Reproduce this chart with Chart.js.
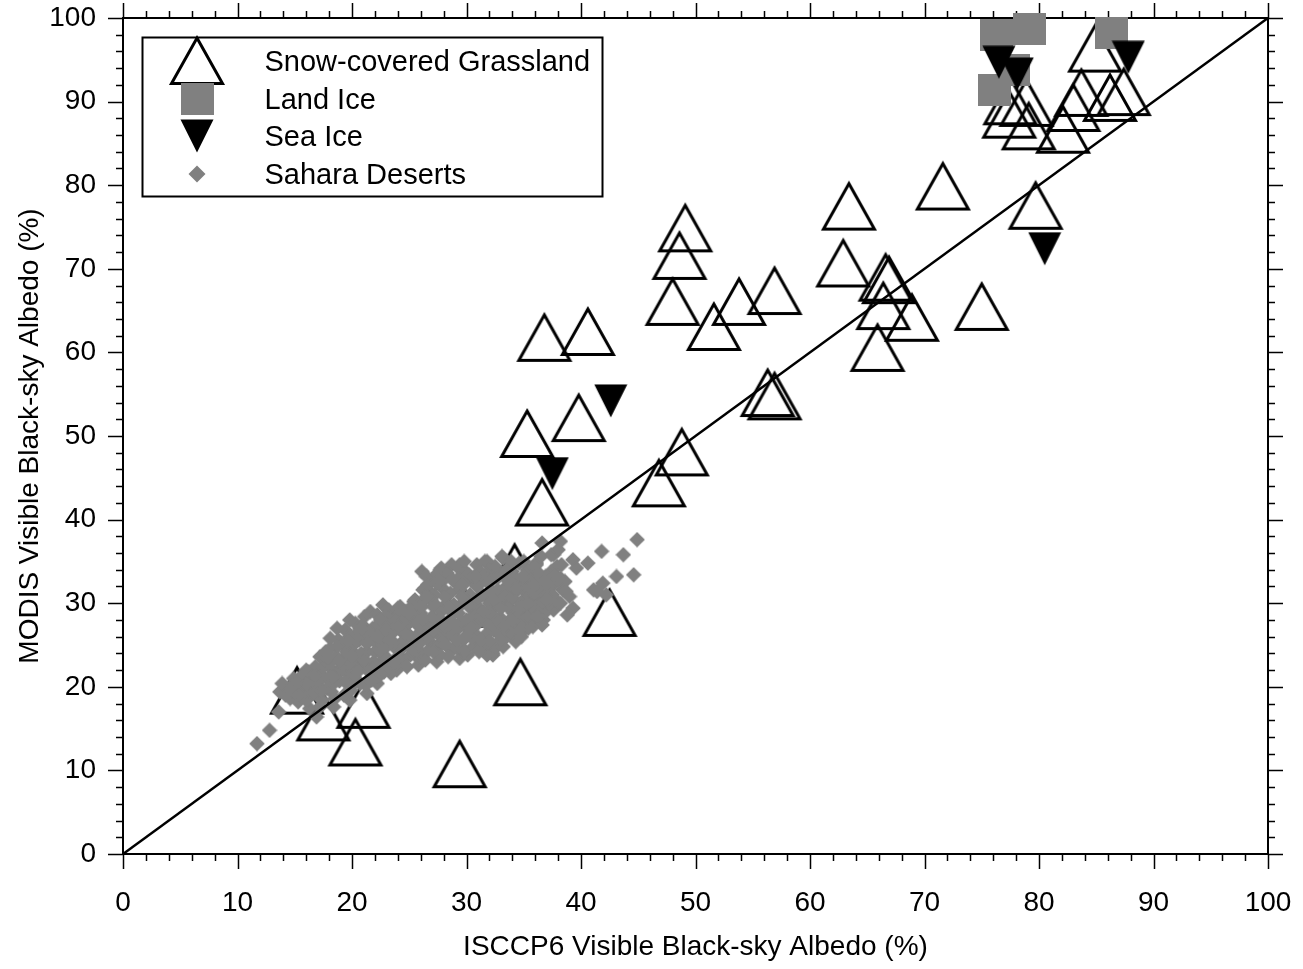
<!DOCTYPE html>
<html>
<head>
<meta charset="utf-8">
<script src="https://cdn.jsdelivr.net/npm/chart.js@4.4.1/dist/chart.umd.min.js"></script>
<style>
  html, body { margin: 0; padding: 0; background: #ffffff; }
  #c { display: block; }
</style>
</head>
<body>
<canvas id="c" width="1303" height="969"></canvas>
<script>
// ---- data ---------------------------------------------------------------
const seriesLabels = ['Snow-covered Grassland', 'Land Ice', 'Sea Ice', 'Sahara Deserts'];
const xTitle = 'ISCCP6 Visible Black-sky Albedo (%)';
const yTitle = 'MODIS Visible Black-sky Albedo (%)';
const axisMin = 0;
const axisMax = 100;
const majorStep = 10;
const minorStep = 2;

// [ISCCP6, MODIS] pairs, percent
const grassland = [
  [49.1, 74.9], [48.6, 71.6], [48.0, 66.1], [51.6, 63.1], [53.8, 66.1], [56.9, 67.4],
  [63.4, 77.5], [62.9, 70.7], [66.6, 69.0], [66.9, 68.7], [66.4, 65.6], [68.9, 64.2],
  [65.9, 60.6], [71.6, 79.9], [75.0, 65.5], [79.7, 77.6],
  [36.8, 61.8], [40.6, 62.5], [39.8, 52.2], [35.3, 50.3], [36.6, 42.1],
  [48.8, 48.1], [46.8, 44.4], [56.3, 55.2], [56.9, 54.8],
  [29.4, 10.8], [20.3, 13.4], [17.5, 16.4], [21.0, 17.9], [15.2, 19.6], [34.7, 20.6],
  [34.2, 34.3], [42.5, 28.9], [29.4, 30.0],
  [77.4, 88.5], [77.5, 90.1], [78.9, 89.9], [79.1, 87.1], [82.1, 86.7], [83.0, 89.3],
  [83.7, 91.1], [86.2, 90.5], [87.4, 91.2], [84.9, 96.4]
];

const landIce = [
  [76.3, 98.0], [79.2, 98.7], [77.8, 93.8], [76.1, 91.4], [86.3, 98.2]
];

const seaIce = [
  [42.6, 54.2], [37.5, 45.5], [80.5, 72.4], [76.5, 94.7], [78.1, 93.3], [87.8, 95.3]
];

const saharaDeserts = [
  // lower-left tail and lower edge
  [11.7, 13.2], [12.8, 14.8], [13.6, 17.0], [13.7, 19.4], [13.9, 20.4], [14.6, 18.6],
  [14.9, 21.0], [16.0, 22.0], [17.2, 23.6], [18.1, 25.8], [18.7, 27.0], [19.8, 28.0],
  [21.6, 29.0], [22.7, 29.8], [16.9, 16.4], [18.4, 17.6], [19.8, 18.4], [21.3, 19.2],
  [22.2, 20.4], [23.9, 22.0], [25.8, 22.6], [27.4, 23.0], [29.4, 23.4],
  [32.3, 23.8], [31.6, 24.8], [32.3, 24.0],
  // upper edge
  [24.2, 29.6], [25.4, 30.2], [26.1, 33.8], [27.0, 32.8], [27.8, 34.2], [29.4, 34.6],
  [31.8, 35.0], [33.2, 35.4], [26.2, 31.6], [26.4, 31.8], [27.7, 34.0], [29.3, 34.2],
  [31.6, 35.0],
  // brighter scenes to the right
  [44.9, 37.6], [44.6, 33.4], [43.7, 35.8], [43.1, 33.2], [41.8, 36.2], [40.6, 34.8],
  [39.3, 35.2], [39.6, 34.2], [38.2, 33.0], [37.6, 35.8], [38.2, 37.4], [36.6, 37.2],
  [36.1, 34.8], [39.3, 29.4], [41.1, 31.6], [42.2, 31.0], [41.9, 32.4], [37.3, 30.8],
  [37.6, 29.2], [36.7, 28.0], [35.8, 28.0], [35.0, 26.8], [33.8, 26.4], [33.5, 29.8],
  [34.1, 28.8], [33.5, 32.0], [35.8, 30.8], [36.4, 29.6], [35.0, 30.4], [33.2, 33.6],
  [33.1, 35.6], [36.4, 32.2], [32.9, 27.6], [33.2, 25.6], [34.7, 28.4], [37.4, 35.8],
  [36.1, 34.6], [41.4, 31.4],
  // core of the cloud
  [14.2, 19.0], [14.8, 20.2], [15.3, 18.2], [15.6, 21.3], [15.9, 19.6], [16.3, 17.4],
  [16.5, 20.8], [16.8, 22.4], [17.0, 18.9], [17.3, 21.5], [17.6, 23.2], [17.8, 19.8],
  [18.1, 24.6], [18.3, 22.0], [18.5, 18.6], [18.8, 25.6], [18.9, 20.7], [19.2, 23.4],
  [19.4, 26.8], [19.6, 21.6], [19.9, 19.6], [20.1, 25.0], [20.3, 27.6], [20.5, 23.0],
  [20.7, 20.4], [20.9, 26.2], [21.1, 28.4], [21.3, 24.2], [21.5, 21.8], [21.8, 27.0],
  [22.0, 25.4], [22.2, 28.6], [22.4, 22.8], [22.6, 23.9], [22.8, 27.9], [23.0, 26.0],
  [23.2, 29.2], [23.4, 21.6], [23.6, 28.6], [23.8, 24.6], [24.0, 29.4], [24.2, 26.8],
  [24.5, 23.2], [24.7, 29.0], [25.0, 27.8], [25.2, 29.6], [25.4, 25.0], [25.6, 30.0],
  [25.8, 23.4], [26.0, 28.8], [26.3, 26.4], [26.5, 33.2], [26.7, 24.4], [26.9, 31.2],
  [27.1, 29.6], [27.3, 27.2], [27.5, 33.6], [27.7, 23.8], [27.9, 31.8], [28.1, 25.8],
  [28.3, 30.0], [28.5, 28.0], [28.7, 34.6], [28.9, 24.6], [29.1, 32.4], [29.3, 27.0],
  [29.5, 29.8], [29.7, 25.6], [29.9, 33.8], [30.1, 23.8], [30.3, 31.0], [30.5, 28.4],
  [30.7, 26.4], [30.9, 34.6], [31.1, 29.4], [31.3, 32.6], [31.5, 25.2], [31.7, 30.8],
  [31.9, 27.4], [32.1, 34.0], [32.3, 28.6], [32.5, 24.6], [32.7, 31.6], [32.9, 26.2],
  [33.1, 30.2], [33.3, 33.2], [33.5, 27.0], [33.7, 31.2], [33.9, 35.0], [34.1, 29.0],
  [34.3, 25.4], [34.5, 32.4], [34.7, 30.0], [34.9, 27.6], [35.1, 31.6], [35.3, 34.0],
  [35.5, 29.2], [35.8, 27.2], [36.0, 32.8], [36.2, 30.6], [36.5, 35.6], [36.8, 28.8],
  [37.0, 31.8], [37.4, 33.8], [37.8, 30.4], [38.0, 36.4], [38.4, 31.6], [38.8, 28.6],
  [15.0, 19.4], [15.5, 20.0], [16.0, 18.4], [16.2, 21.8], [16.9, 20.0], [17.2, 17.6],
  [17.5, 22.4], [17.9, 21.0], [18.2, 19.4], [18.6, 23.6], [18.8, 21.6], [19.1, 25.2],
  [19.3, 19.0], [19.7, 22.6], [19.9, 24.4], [20.2, 21.2], [20.4, 26.4], [20.8, 24.0],
  [21.0, 22.6], [21.2, 20.2], [21.6, 25.8], [21.9, 23.0], [22.1, 27.2], [22.3, 21.2],
  [22.7, 25.6], [22.9, 28.4], [23.1, 23.4], [23.3, 27.4], [23.7, 25.2], [23.9, 22.6],
  [24.1, 28.6], [24.4, 29.0], [24.6, 25.6], [24.8, 27.4], [25.1, 23.8], [25.3, 29.4],
  [25.5, 30.4], [25.7, 26.2], [26.1, 24.0], [26.2, 30.2], [26.4, 27.6], [26.6, 32.2],
  [26.8, 25.4], [27.0, 28.4], [27.2, 31.0], [27.4, 24.8], [27.6, 26.2], [27.8, 29.0],
  [28.0, 32.8], [28.2, 27.0], [28.4, 23.6], [28.6, 31.2], [28.8, 26.2], [29.0, 29.0],
  [29.2, 24.6], [29.4, 31.6], [29.6, 27.8], [29.8, 35.0], [30.0, 30.2], [30.2, 26.8],
  [30.4, 32.8], [30.6, 24.8], [30.8, 29.2], [31.0, 27.6], [31.2, 33.8], [31.4, 31.0],
  [31.6, 27.8], [31.8, 23.8], [32.0, 30.0], [32.2, 32.8], [32.4, 26.8], [32.6, 29.8],
  [32.8, 33.6], [33.0, 28.2], [33.2, 24.8], [33.4, 31.8], [33.6, 29.6], [33.8, 26.4],
  [34.0, 33.8], [34.2, 31.2], [34.4, 28.2], [34.6, 34.8], [34.8, 26.0], [35.0, 29.6],
  [35.2, 32.6], [35.4, 27.0], [35.6, 30.8], [35.9, 34.4], [36.1, 29.0], [36.4, 31.4],
  [36.6, 27.4], [36.9, 33.2], [37.2, 29.8], [37.6, 32.2], [37.9, 34.4], [38.2, 30.0],
  [38.6, 32.6], [39.0, 30.8],
  [14.5, 19.8], [15.2, 20.6], [15.8, 18.9], [16.6, 19.2], [17.1, 20.6], [17.4, 18.4],
  [17.7, 24.2], [18.0, 22.8], [18.4, 20.4], [18.7, 24.8], [19.0, 22.2], [19.5, 24.2],
  [19.8, 26.0], [20.0, 20.2], [20.2, 22.4], [20.6, 25.6], [20.9, 27.4], [21.1, 23.2],
  [21.4, 26.6], [21.7, 20.8], [22.0, 24.2], [22.3, 26.2], [22.5, 28.0], [22.8, 21.8],
  [23.0, 24.8], [23.3, 22.4], [23.5, 26.4], [23.8, 28.0], [24.0, 23.6], [24.3, 25.2],
  [24.5, 27.8], [24.8, 22.4], [25.0, 26.2], [25.3, 28.4], [25.6, 24.2], [25.9, 27.2],
  [26.1, 29.6], [26.4, 23.2], [26.6, 25.8], [26.9, 30.4], [27.1, 26.6], [27.4, 32.4],
  [27.6, 28.2], [27.9, 25.2], [28.1, 30.8], [28.3, 33.6], [28.6, 27.4], [28.9, 29.8],
  [29.1, 25.6], [29.3, 33.0], [29.6, 30.8], [29.8, 24.4], [30.0, 28.0], [30.2, 33.4],
  [30.5, 25.8], [30.7, 30.0], [30.9, 32.0], [31.1, 24.2], [31.3, 28.4], [31.5, 33.2],
  [31.8, 26.4], [32.0, 29.0], [32.2, 31.4], [32.5, 34.4], [32.7, 27.8], [33.0, 25.6],
  [33.2, 30.8], [33.5, 34.0], [33.8, 28.0], [34.0, 30.6], [34.3, 33.0], [34.5, 26.8],
  [34.8, 31.8], [35.0, 35.0], [35.3, 28.4], [35.6, 33.0], [35.7, 29.8], [36.0, 31.2],
  [36.3, 33.6], [36.6, 30.2], [36.9, 30.8], [37.2, 32.8], [37.5, 31.0], [38.0, 32.8],
  [38.3, 34.6], [38.7, 31.4],
  [15.4, 19.0], [16.1, 20.4], [16.7, 21.4], [17.4, 19.6], [17.9, 23.4], [18.3, 21.2],
  [18.9, 23.0], [19.4, 20.6], [19.6, 25.4], [20.0, 23.6], [20.5, 21.8], [20.7, 27.0],
  [21.3, 25.2], [21.8, 22.2], [22.1, 26.0], [22.5, 24.4], [22.9, 26.8], [23.3, 25.6],
  [23.6, 23.0], [24.0, 27.2], [24.2, 24.4], [24.7, 26.4], [25.0, 28.8], [25.3, 24.4],
  [25.6, 27.6], [25.9, 25.2], [26.2, 28.2], [26.5, 30.8], [26.8, 27.0], [27.1, 24.2],
  [27.3, 29.8], [27.6, 32.8], [27.9, 27.6], [28.2, 25.0], [28.4, 29.4], [28.8, 32.8],
  [29.0, 27.4], [29.3, 28.8], [29.7, 32.2], [29.9, 26.0], [30.2, 29.6], [30.4, 27.2],
  [30.7, 33.2], [31.0, 30.6], [31.2, 25.6], [31.5, 29.0], [31.9, 32.4], [32.1, 25.4],
  [32.4, 30.4], [32.7, 33.0], [33.0, 29.4], [33.3, 27.2], [33.7, 32.6], [34.0, 27.8],
  [34.3, 31.8], [34.6, 29.4], [34.9, 33.2], [35.2, 30.0], [35.5, 31.8], [35.9, 32.2],
  [36.2, 28.4], [36.7, 32.6], [37.1, 30.4], [37.7, 33.4]
];

// one-to-one reference line
const identityLine = [[axisMin, axisMin], [axisMax, axisMax]];

// ---- marker glyphs ------------------------------------------------------
const FONT = "'Liberation Sans', Arial, Helvetica, sans-serif";
const GRAY = 'rgb(128,128,128)';

function glyph(w, h, paint) {
  const c = document.createElement('canvas');
  c.width = w; c.height = h;
  paint(c.getContext('2d'));
  return c;
}

const triangleOpen = glyph(58, 53, g => {
  g.beginPath();
  g.moveTo(29, 4); g.lineTo(54.5, 49.5); g.lineTo(3.5, 49.5); g.closePath();
  g.lineWidth = 3; g.lineJoin = 'miter'; g.strokeStyle = '#000';
  g.stroke();
});
const triangleDown = glyph(34, 34, g => {
  g.beginPath();
  g.moveTo(0.5, 0.5); g.lineTo(33.5, 0.5); g.lineTo(17, 33.5); g.closePath();
  g.fillStyle = '#000'; g.fill();
});
const squareFilled = glyph(33, 32, g => {
  g.fillStyle = GRAY; g.fillRect(0, 0, 33, 32);
});
const diamondSmall = glyph(16, 16, g => {
  g.beginPath();
  g.moveTo(8, 0.2); g.lineTo(15.8, 8); g.lineTo(8, 15.8); g.lineTo(0.2, 8); g.closePath();
  g.fillStyle = GRAY; g.fill();
});
const diamondLegend = glyph(18, 18, g => {
  g.beginPath();
  g.moveTo(9, 0.5); g.lineTo(17.5, 9); g.lineTo(9, 17.5); g.lineTo(0.5, 9); g.closePath();
  g.fillStyle = GRAY; g.fill();
});

const toXY = arr => arr.map(p => ({ x: p[0], y: p[1] }));

// ---- frame with outward major/minor ticks on all four sides --------------
const frameTicks = {
  id: 'frameTicks',
  beforeDatasetsDraw(chart) {
    const { ctx, chartArea: a, scales: { x, y } } = chart;
    ctx.save();
    ctx.strokeStyle = '#000';
    ctx.lineWidth = 1.5;
    ctx.beginPath();
    for (let v = axisMin; v <= axisMax; v += minorStep) {
      const major = v % majorStep === 0;
      const len = major ? 15 : 7;
      const px = Math.round(x.getPixelForValue(v)) + 0.5;
      const py = Math.round(y.getPixelForValue(v)) + 0.5;
      ctx.moveTo(px, a.bottom); ctx.lineTo(px, a.bottom + len);
      ctx.moveTo(px, a.top); ctx.lineTo(px, a.top - len);
      ctx.moveTo(a.left, py); ctx.lineTo(a.left - len, py);
      ctx.moveTo(a.right, py); ctx.lineTo(a.right + len, py);
    }
    ctx.stroke();
    ctx.lineWidth = 2;
    ctx.strokeRect(a.left, a.top, a.right - a.left, a.bottom - a.top);
    ctx.restore();
  }
};

// ---- boxed legend in the upper-left corner of the plot -------------------
const boxedLegend = {
  id: 'boxedLegend',
  afterDraw(chart) {
    const { ctx, chartArea: a } = chart;
    const left = a.left + 19.5, top = a.top + 19.5, w = 460, h = 159;
    ctx.save();
    ctx.fillStyle = '#fff';
    ctx.fillRect(left, top, w, h);
    ctx.lineWidth = 2;
    ctx.strokeStyle = '#000';
    ctx.strokeRect(left, top, w, h);
    const rows = [
      { img: triangleOpen, dy: 23, label: seriesLabels[0] },
      { img: squareFilled, dy: 61, label: seriesLabels[1] },
      { img: triangleDown, dy: 98, label: seriesLabels[2] },
      { img: diamondLegend, dy: 136, label: seriesLabels[3] }
    ];
    const mx = left + 54.5;
    ctx.font = '29px ' + FONT;
    ctx.fillStyle = '#000';
    ctx.textBaseline = 'middle';
    rows.forEach(r => {
      ctx.drawImage(r.img, Math.round(mx - r.img.width / 2), Math.round(top + r.dy - r.img.height / 2));
    });
    rows.forEach(r => {
      ctx.fillText(r.label, left + 122, top + r.dy + 2);
    });
    ctx.restore();
  }
};

// ---- chart -------------------------------------------------------------
const pointSet = (label, data, style, order) => ({
  type: 'scatter',
  label,
  data: toXY(data),
  pointStyle: style,
  pointRadius: 10,
  pointHoverRadius: 10,
  borderWidth: 0,
  clip: false,
  order
});

new Chart(document.getElementById('c'), {
  type: 'scatter',
  data: {
    datasets: [
      {
        type: 'line',
        label: '1:1',
        data: toXY(identityLine),
        borderColor: '#000',
        borderWidth: 2.5,
        pointRadius: 0,
        fill: false,
        order: 0
      },
      pointSet(seriesLabels[3], saharaDeserts, diamondSmall, 1),
      pointSet(seriesLabels[2], seaIce, triangleDown, 2),
      pointSet(seriesLabels[1], landIce, squareFilled, 3),
      pointSet(seriesLabels[0], grassland, triangleOpen, 4)
    ]
  },
  options: {
    responsive: false,
    animation: false,
    devicePixelRatio: 1,
    events: [],
    layout: { padding: { top: 18, right: 35, left: 0, bottom: 0 } },
    plugins: { legend: { display: false }, tooltip: { enabled: false } },
    scales: {
      x: {
        type: 'linear',
        min: axisMin, max: axisMax,
        grid: { display: false, drawTicks: false },
        border: { display: false },
        ticks: {
          stepSize: majorStep, autoSkip: false, maxRotation: 0, padding: 32,
          color: '#000', font: { family: FONT, size: 28 }
        },
        title: {
          display: true, text: xTitle, color: '#000',
          font: { family: FONT, size: 28 }, padding: { top: 0, bottom: 5 }
        },
        afterFit(s) { s.height = 115; s.paddingLeft = 0; s.paddingRight = 0; }
      },
      y: {
        type: 'linear',
        min: axisMin, max: axisMax,
        grid: { display: false, drawTicks: false },
        border: { display: false },
        ticks: {
          stepSize: majorStep, autoSkip: false, padding: 27,
          color: '#000', font: { family: FONT, size: 28 }
        },
        title: {
          display: true, text: yTitle, color: '#000',
          font: { family: FONT, size: 28 }, padding: { top: 13, bottom: 0 }
        },
        afterFit(s) { s.width = 123; s.paddingTop = 0; s.paddingBottom = 0; }
      }
    }
  },
  plugins: [frameTicks, boxedLegend]
});
</script>
</body>
</html>
